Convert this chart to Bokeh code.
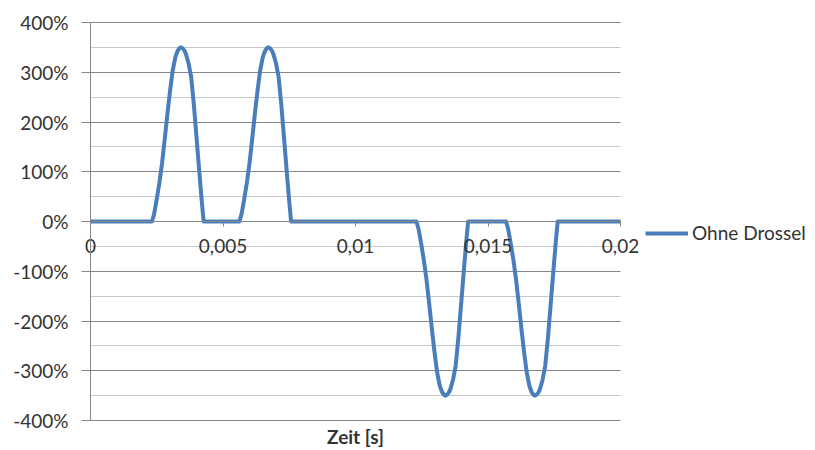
from bokeh.plotting import figure
from bokeh.models import Range1d, FixedTicker, Legend, LegendItem, Label
from bokeh.embed import file_html
from bokeh.resources import INLINE

# ---- data ----
zeit_ms = [
    0.0,
    2.32, 2.40, 2.50, 2.60, 2.70, 2.80, 2.90, 3.00, 3.10, 3.20, 3.25, 3.30, 3.35, 3.42,
    3.48, 3.55, 3.60, 3.70, 3.80, 3.90, 4.00, 4.10, 4.20, 4.27,
    5.62, 5.70, 5.80, 5.90, 6.00, 6.10, 6.20, 6.30, 6.40, 6.50, 6.55, 6.60, 6.65, 6.72,
    6.78, 6.85, 6.90, 7.00, 7.10, 7.20, 7.30, 7.40, 7.50, 7.57,
    12.30, 12.38, 12.48, 12.58, 12.68, 12.78, 12.88, 12.98, 13.08, 13.18, 13.23, 13.28, 13.33, 13.40,
    13.46, 13.53, 13.58, 13.68, 13.78, 13.88, 13.98, 14.08, 14.18, 14.25,
    15.68, 15.76, 15.86, 15.96, 16.06, 16.16, 16.26, 16.36, 16.46, 16.56, 16.61, 16.66, 16.71, 16.78,
    16.84, 16.91, 16.96, 17.06, 17.16, 17.26, 17.36, 17.46, 17.56, 17.63,
    20.0,
]
strom_pct = [
    0,
    0, 15, 45, 78, 117, 165, 215, 262, 303, 330, 338, 344, 348, 350,
    348, 343, 337, 318, 290, 235, 170, 104, 40, 0,
    0, 15, 45, 78, 117, 165, 215, 262, 303, 330, 338, 344, 348, 350,
    348, 343, 337, 318, 290, 235, 170, 104, 40, 0,
    0, -15, -45, -78, -117, -165, -215, -262, -303, -330, -338, -344, -348, -350,
    -348, -343, -337, -318, -290, -235, -170, -104, -40, 0,
    0, -15, -45, -78, -117, -165, -215, -262, -303, -330, -338, -344, -348, -350,
    -348, -343, -337, -318, -290, -235, -170, -104, -40, 0,
    0,
]
zeit_s = [t / 1000.0 for t in zeit_ms]

x_ticks = [0, 0.005, 0.01, 0.015, 0.02]
x_tick_labels = ["0", "0,005", "0,01", "0,015", "0,02"]
y_ticks = [-400, -300, -200, -100, 0, 100, 200, 300, 400]
y_tick_labels = ["-400%", "-300%", "-200%", "-100%", "0%", "100%", "200%", "300%", "400%"]
y_minor_ticks = [-350, -250, -150, -50, 50, 150, 250, 350]
series_name = "Ohne Drossel"
x_title = "Zeit [s]"

# ---- layout (pixels) ----
W, H = 815, 450
PL, PR, PT, PB = 90, 620, 22, 420   # plot area edges on the canvas

FONT = "Lato"
FSIZE = "19px"
TEXT = "#333333"
AXIS = "#868686"
BLUE = "#4a7ebb"

x0, x1 = x_ticks[0], x_ticks[-1]
y0, y1 = y_ticks[0], y_ticks[-1]
sx = (x1 - x0) / (PR - PL)
sy = (y1 - y0) / (PB - PT)
x_range = Range1d(x0 - PL * sx, x1 + (W - PR) * sx)
y_range = Range1d(y0 - (H - PB) * sy, y1 + PT * sy)

p = figure(width=W, height=H, output_backend="svg", toolbar_location=None,
           x_range=x_range, y_range=y_range,
           min_border_left=0, min_border_right=0,
           min_border_top=0, min_border_bottom=0)
p.outline_line_color = None
p.background_fill_color = "white"
p.border_fill_color = "white"

# y axis at x = 0
yt = FixedTicker(ticks=y_ticks, minor_ticks=y_minor_ticks)
p.yaxis.ticker = yt
p.yaxis.fixed_location = x0
p.yaxis.bounds = (y0, y1)
p.yaxis.major_label_overrides = dict(zip(y_ticks, y_tick_labels))
p.yaxis.axis_line_color = AXIS
p.yaxis.major_tick_line_color = AXIS
p.yaxis.major_tick_out = 9
p.yaxis.major_tick_in = 0
p.yaxis.minor_tick_out = 0
p.yaxis.minor_tick_in = 0
p.yaxis.major_label_standoff = 13
p.yaxis.major_label_text_font = FONT
p.yaxis.major_label_text_font_size = FSIZE
p.yaxis.major_label_text_color = TEXT

p.ygrid.ticker = yt
p.ygrid.bounds = (y0, y1)
p.ygrid.cross_bounds = (x0, x1)
p.ygrid.grid_line_color = AXIS
p.ygrid.minor_grid_line_color = "#c8c8c8"
p.xgrid.visible = False

# x axis crossing at 0 %
xt = FixedTicker(ticks=x_ticks)
p.xaxis.ticker = xt
p.xaxis.fixed_location = 0
p.xaxis.bounds = (x0, x1)
p.xaxis.major_label_overrides = dict(zip(x_ticks, x_tick_labels))
p.xaxis.axis_line_color = AXIS
p.xaxis.major_tick_line_color = AXIS
p.xaxis.major_tick_out = 5
p.xaxis.major_tick_in = 0
p.xaxis.minor_tick_out = 0
p.xaxis.minor_tick_in = 0
p.xaxis.major_label_standoff = 12
p.xaxis.major_label_text_font = FONT
p.xaxis.major_label_text_font_size = FSIZE
p.xaxis.major_label_text_color = TEXT

r = p.line(zeit_s, strom_pct, line_color=BLUE, line_width=4, line_join="round")

title = Label(x=(x0 + x1) / 2, y=y0, x_units="data", y_units="data",
              text=x_title, text_align="center", text_baseline="alphabetic",
              y_offset=-16, text_font=FONT, text_font_size=FSIZE,
              text_font_style="bold", text_color=TEXT)
p.add_layout(title)

legend = Legend(items=[LegendItem(label=series_name, renderers=[r])],
                location=(645, 206), orientation="vertical",
                glyph_width=43, glyph_height=20, label_standoff=4,
                padding=0, margin=0, spacing=0,
                border_line_color=None, background_fill_alpha=0,
                label_text_font=FONT, label_text_font_size=FSIZE,
                label_text_color=TEXT)
p.add_layout(legend)

open("out.html", "w").write(file_html(p, INLINE))
